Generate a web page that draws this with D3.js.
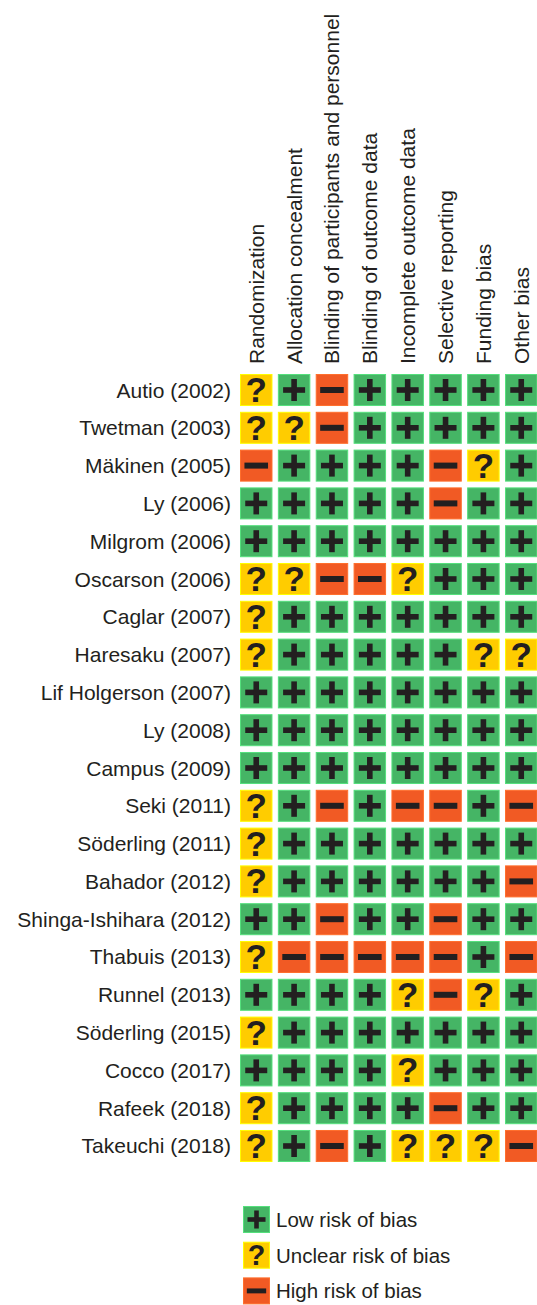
<!DOCTYPE html>
<html>
<head>
<meta charset="utf-8">
<title>Risk of bias</title>
<script src="https://d3js.org/d3.v7.min.js"></script>
<style type="text/css">
body { margin: 0; background: #fff; }
text { font-family: "Liberation Sans", Arial, sans-serif; fill: #231f20; }
</style>
</head>
<body>
<div id="my_dataviz"></div>
<script>
// studies, top to bottom
var studies = ["Autio (2002)", "Twetman (2003)", "Mäkinen (2005)", "Ly (2006)", "Milgrom (2006)",
  "Oscarson (2006)", "Caglar (2007)", "Haresaku (2007)", "Lif Holgerson (2007)", "Ly (2008)",
  "Campus (2009)", "Seki (2011)", "Söderling (2011)", "Bahador (2012)", "Shinga-Ishihara (2012)",
  "Thabuis (2013)", "Runnel (2013)", "Söderling (2015)", "Cocco (2017)", "Rafeek (2018)", "Takeuchi (2018)"];

var domains = ["Randomization", "Allocation concealment", "Blinding of participants and personnel",
  "Blinding of outcome data", "Incomplete outcome data", "Selective reporting", "Funding bias", "Other bias"];

// L = low, U = unclear, H = high; one string per study, one letter per domain
var judgements = [
  "ULHLLLLL", "UUHLLLLL", "HLLLLHUL", "LLLLLHLL", "LLLLLLLL",
  "UUHHULLL", "ULLLLLLL", "ULLLLLUU", "LLLLLLLL", "LLLLLLLL",
  "LLLLLLLL", "ULHLHHLH", "ULLLLLLL", "ULLLLLLH", "LLHLLHLL",
  "UHHHHHLH", "LLLLUHUL", "ULLLLLLL", "LLLLULLL", "ULLLLHLL", "ULHLUUUH"];

var levels = ["L", "U", "H"];
var levelNames = ["Low risk of bias", "Unclear risk of bias", "High risk of bias"];
var levelColors = ["#45b565", "#ffcc00", "#f15a24"];

var width = 537, height = 1305;

var svg = d3.select("#my_dataviz")
  .append("svg")
    .attr("width", width)
    .attr("height", height);

var x = d3.scaleBand()
  .domain(domains)
  .range([240, 537.5])
  .paddingInner(0.142);

var y = d3.scaleBand()
  .domain(studies)
  .range([374, 1162])
  .paddingInner(0.153);

var color = d3.scaleOrdinal().domain(levels).range(levelColors);
var ink = "#231f20";

// draw the symbol for one judgement, centred on 0,0, scaled by s
function drawSymbol(g, level, s) {
  if (level == "L") {
    g.append("rect").attr("x", -11 * s).attr("y", -2.8 * s).attr("width", 22 * s).attr("height", 5.6 * s).attr("fill", ink);
    g.append("rect").attr("x", -2.8 * s).attr("y", -11 * s).attr("width", 5.6 * s).attr("height", 22 * s).attr("fill", ink);
  } else if (level == "H") {
    g.append("rect").attr("x", -11.8 * s).attr("y", -3 * s).attr("width", 23.6 * s).attr("height", 6 * s).attr("fill", ink);
  } else {
    g.append("text")
      .attr("text-anchor", "middle")
      .attr("y", 12 * s)
      .style("font-size", (35 * s) + "px")
      .style("font-weight", "bold")
      .text("?");
  }
}

// column labels
svg.append("g")
  .selectAll("text")
  .data(domains)
  .enter()
  .append("text")
    .attr("text-anchor", "start")
    .attr("transform", function (d) { return "translate(" + (x(d) + x.bandwidth() / 2 + 7.5) + ",364)rotate(-90)"; })
    .style("font-size", "21px")
    .text(function (d) { return d; });

// row labels
svg.append("g")
  .selectAll("text")
  .data(studies)
  .enter()
  .append("text")
    .attr("text-anchor", "end")
    .attr("x", 231)
    .attr("y", function (d) { return y(d) + y.bandwidth() / 2 + 7.5; })
    .style("font-size", "21px")
    .text(function (d) { return d; });

// cells
var cells = [];
studies.forEach(function (s, i) {
  domains.forEach(function (d, j) {
    cells.push({ study: s, domain: d, level: judgements[i][j] });
  });
});

var cell = svg.append("g")
  .selectAll("g")
  .data(cells)
  .enter()
  .append("g")
    .attr("transform", function (d) { return "translate(" + x(d.domain) + "," + y(d.study) + ")"; });

cell.append("rect")
  .attr("x", 0.5).attr("y", 0.5)
  .attr("width", x.bandwidth() - 1)
  .attr("height", y.bandwidth() - 1)
  .attr("fill", function (d) { return color(d.level); })
  .attr("stroke", function (d) { return d3.color(color(d.level)).brighter(0.6); })
  .attr("stroke-width", 1);

cell.each(function (d) {
  var g = d3.select(this).append("g")
    .attr("transform", "translate(" + (x.bandwidth() / 2) + "," + (y.bandwidth() / 2) + ")");
  drawSymbol(g, d.level, 1);
});

// legend
var legend = svg.append("g")
  .selectAll("g")
  .data(levels)
  .enter()
  .append("g")
    .attr("transform", function (d, i) { return "translate(243," + (1206 + i * 35.7) + ")"; });

legend.append("rect")
  .attr("x", 0.5).attr("y", 0.5)
  .attr("width", 26).attr("height", 26)
  .attr("fill", function (d) { return color(d); })
  .attr("stroke", function (d) { return d3.color(color(d)).brighter(0.6); });

legend.each(function (d) {
  var g = d3.select(this).append("g").attr("transform", "translate(13.5,13.5)");
  drawSymbol(g, d, 0.82);
});

legend.append("text")
  .attr("x", 33)
  .attr("y", 21)
  .style("font-size", "20.5px")
  .text(function (d, i) { return levelNames[i]; });
</script>
</body>
</html>
